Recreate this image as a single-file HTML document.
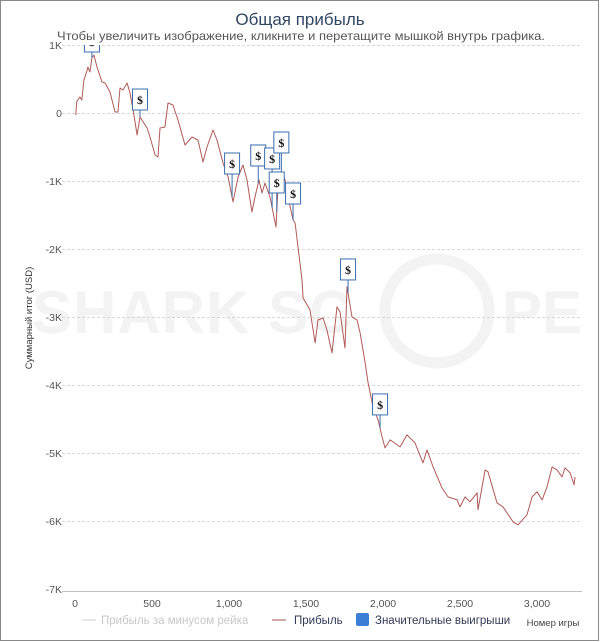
<!DOCTYPE html>
<html><head><meta charset="utf-8">
<style>
html,body{margin:0;padding:0;background:#fff;}
body{width:600px;height:642px;overflow:hidden;}
svg{display:block;font-family:"Liberation Sans","DejaVu Sans",sans-serif;}
</style></head>
<body>
<svg id="chart" width="600" height="642" viewBox="0 0 600 642">
<rect x="0.5" y="0.5" width="598" height="640" fill="#fff" stroke="#8a8a8a"/>
<g fill="#f3f3f3">
<text x="32" y="333" font-size="60" font-weight="bold" letter-spacing="1">SHARK SC</text>
<circle cx="437" cy="311" r="52" fill="none" stroke="#f3f3f3" stroke-width="11"/>
<text x="502" y="333" font-size="60" font-weight="bold">PE</text>
</g>
<text x="300" y="25" text-anchor="middle" font-size="17" fill="#2f4763">Общая прибыль</text>
<text x="57" y="40" font-size="12" textLength="488" lengthAdjust="spacingAndGlyphs" fill="#555">Чтобы увеличить изображение, кликните и перетащите мышкой внутрь графика.</text>
<g id="grid"></g>
<g id="yticks"></g>
<g id="xticks"></g>
<line x1="62" y1="591.5" x2="582" y2="591.5" stroke="#c0c0c0"/>
<text transform="translate(32,318) rotate(-90)" text-anchor="middle" font-size="9.5" fill="#333">Суммарный итог (USD)</text>
<text x="553" y="626" text-anchor="middle" font-size="9.5" fill="#444">Номер игры</text>
<defs><clipPath id="pc"><rect x="62" y="45" width="522" height="552"/></clipPath></defs>
<g id="series" clip-path="url(#pc)"></g>
<g id="flags" clip-path="url(#pc)"></g>
<g>
<g>
<line x1="82" y1="620" x2="96" y2="620" stroke="#ccc"/>
<text x="101" y="624" font-size="11.5" fill="#c8c8c8">Прибыль за минусом рейка</text></g>
<g>
<line x1="272" y1="620" x2="286" y2="620" stroke="#a0524f"/>
<text x="294" y="624" font-size="11.5" fill="#333a55">Прибыль</text></g>
<g>
<rect x="356" y="613" width="13" height="13" rx="2" fill="#3a7fd5"/>
<text x="375" y="624" font-size="11.5" fill="#333a55">Значительные выигрыши</text></g>
</g>
</svg>
<script>
const yTicks=[1000,0,-1000,-2000,-3000,-4000,-5000,-6000,-7000];
const yTickLabels=["1K","0","-1K","-2K","-3K","-4K","-5K","-6K","-7K"];
const xTicks=[0,500,1000,1500,2000,2500,3000];
const xTickLabels=["0","500","1,000","1,500","2,000","2,500","3,000"];
const games=[5,11,32,44,58,76,84,97,110,123,143,175,195,227,260,279,292,312,338,357,377,403,422,468,487,520,539,552,584,604,636,669,714,760,799,831,857,896,922,961,994,1026,1059,1091,1117,1149,1169,1195,1214,1234,1266,1305,1318,1344,1364,1383,1416,1429,1448,1474,1481,1526,1559,1578,1611,1636,1669,1701,1721,1753,1766,1799,1831,1851,1883,1903,1935,1968,1994,2013,2046,2111,2156,2208,2260,2286,2325,2383,2422,2481,2500,2533,2565,2611,2617,2663,2682,2740,2779,2844,2877,2935,2968,3000,3033,3065,3098,3130,3163,3182,3215,3241,3247];
const profit=[-29,166,235,191,485,607,676,603,809,853,676,456,441,309,15,15,368,338,441,294,44,-323,-59,-221,-353,-617,-647,-221,-206,147,118,-103,-470,-353,-397,-720,-500,-250,-397,-735,-941,-1308,-941,-764,-985,-1455,-1235,-985,-1176,-1029,-1235,-1676,-1088,-882,-985,-1235,-1573,-1617,-1970,-2455,-2720,-2896,-3381,-3043,-3014,-3190,-3528,-2852,-2925,-3455,-2558,-2999,-3043,-3234,-3660,-3969,-4322,-4513,-4763,-4925,-4807,-4910,-4733,-4851,-5145,-4954,-5204,-5513,-5645,-5689,-5792,-5645,-5718,-5586,-5836,-5248,-5277,-5733,-5792,-6012,-6056,-5909,-5645,-5571,-5689,-5498,-5204,-5248,-5351,-5219,-5292,-5469,-5351];
const flagGames=[110,422,1020,1190,1280,1340,1310,1416,1773,1981];
const flagLevels=[897,44,-897,-779,-823,-588,-1176,-1338,-2455,-4440];
const flagLabels=["$","$","$","$","$","$","$","$","$","$"];

const X0=75,XS=0.154,Y0=113,YS=0.068;
function xs(g){return X0+g*XS;}
function ys(v){return Y0-v*YS;}
const NS="http://www.w3.org/2000/svg";
function mk(t,a,p){const e=document.createElementNS(NS,t);for(const k in a)e.setAttribute(k,a[k]);p.appendChild(e);return e;}
const grid=document.getElementById('grid'),yt=document.getElementById('yticks'),xt=document.getElementById('xticks');
yTicks.forEach((v,i)=>{
 if(v!==-7000){const l=mk('line',{x1:62,x2:582,y1:ys(v)+0.5,y2:ys(v)+0.5,stroke:'#d8d8d8','stroke-dasharray':'3,2'},grid);
 
 }
 const t=mk('text',{x:62,y:ys(v)+4,'text-anchor':'end','font-size':'10.5',fill:'#555'},yt);
 t.textContent=yTickLabels[i];
 
 
});
xTicks.forEach((g,i)=>{
 const t=mk('text',{x:xs(g),y:607,'text-anchor':'middle','font-size':'10.5',fill:'#555'},xt);
 t.textContent=xTickLabels[i];
 
 
});
const ser=document.getElementById('series');
const pts=games.map((g,i)=>xs(g).toFixed(1)+','+ys(profit[i]).toFixed(1)).join(' ');
const pl=mk('polyline',{points:pts,fill:'none',stroke:'#b05a57','stroke-width':'1','stroke-linejoin':'round'},ser);


function interp(g){for(let i=1;i<games.length;i++){if(games[i]>=g){const t=(g-games[i-1])/(games[i]-games[i-1]);return profit[i-1]+t*(profit[i]-profit[i-1]);}}return profit[profit.length-1];}
const fl=document.getElementById('flags');
flagGames.forEach((g,i)=>{
 const x=xs(g),yb=ys(flagLevels[i]),yp=ys(interp(g));
 const grp=mk('g',{},fl);
 
 
 mk('line',{x1:x,x2:x,y1:yb,y2:yp,stroke:'#3a6fb0'},grp);
 mk('rect',{x:x-7.5,y:yb-21,width:15,height:21,fill:'#fff',stroke:'#3a6fb0','stroke-width':'1'},grp);
 const t=mk('text',{x:x,y:yb-6,'text-anchor':'middle','font-size':'12','font-weight':'bold',fill:'#111','font-family':'Liberation Serif, serif'},grp);
 t.textContent=flagLabels[i];
});
</script>
</body></html>
